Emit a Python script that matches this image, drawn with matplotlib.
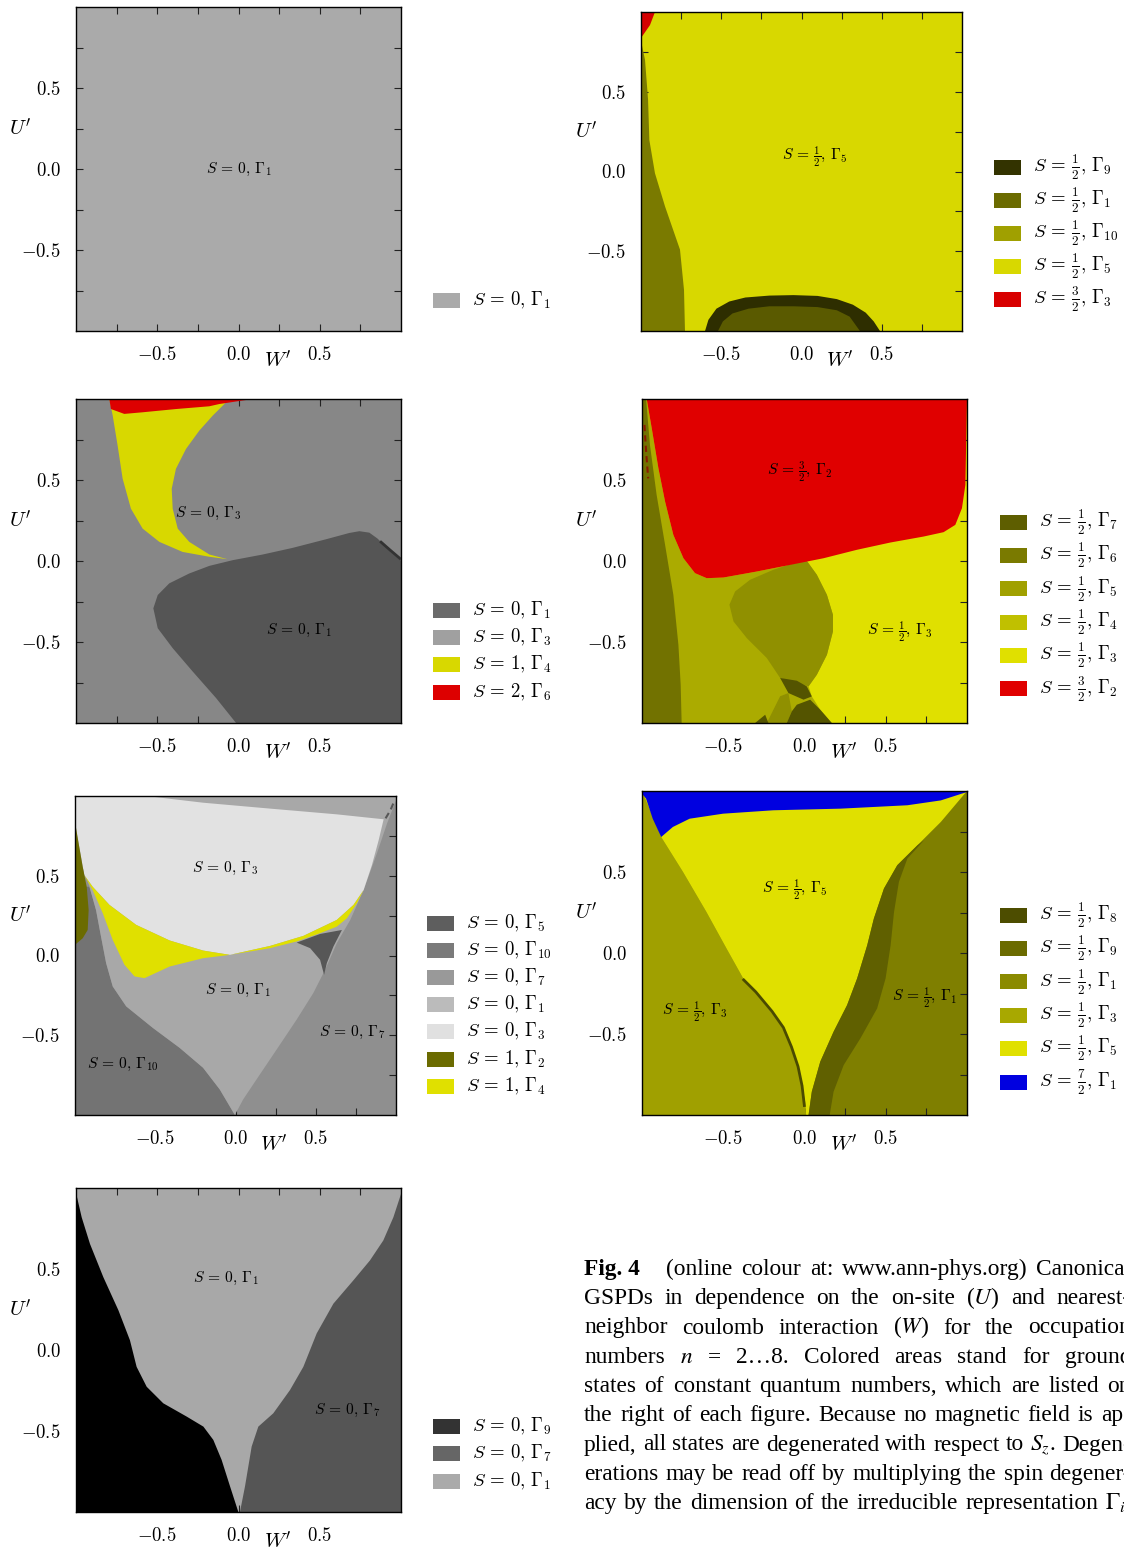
import matplotlib
matplotlib.use("Agg")
import matplotlib.pyplot as plt
from matplotlib.patches import Rectangle

plt.rcParams["mathtext.fontset"] = "cm"
plt.rcParams["font.family"] = ["DejaVu Serif"]

# ---------------- common axis data ----------------
major_ticks = [-0.5, 0.0, 0.5]
major_tick_labels = ["$-0.5$", "$0.0$", "$0.5$"]
minor_ticks = [-0.75, -0.25, 0.25, 0.75]
axis_range = [-1.0, 1.0]
x_label = "$W'$"
y_label = "$U'$"


def st(spin, gamma):
    """quantum-number label S = spin, Gamma_gamma"""
    s = {"1/2": r"\frac{1}{2}", "3/2": r"\frac{3}{2}", "7/2": r"\frac{7}{2}"}.get(spin, spin)
    return r"$S\,=\," + s + r",\,\Gamma_{" + gamma + "}$"


# ---------------- n = 2 ----------------
n2_spins = ["0"]
n2_gammas = ["1"]
n2_colors = ["#aaaaaa"]
n2_legend_colors = ["#aaaaaa"]
n2_background = 0
n2_regions = []
n2_labels = [("0", "1", 0.0, 0.0)]

# ---------------- n = 3 ----------------
n3_spins = ["1/2", "1/2", "1/2", "1/2", "3/2"]
n3_gammas = ["9", "1", "10", "5", "3"]
n3_colors = ["#2e2e00", "#5a5a00", "#7a7a00", "#d8d800", "#d40000"]
n3_legend_colors = ["#333300", "#6b6b00", "#a0a000", "#d8d800", "#d80000"]
n3_background = 3
n3_g10_W = [-1.0, -0.975, -0.956, -0.948, -0.913, -0.850, -0.757, -0.732, -0.726, -1.0]
n3_g10_U = [0.82, 0.70, 0.45, 0.197, -0.011, -0.22, -0.49, -0.743, -1.0, -1.0]
n3_red_W = [-1.0, -0.913, -0.944, -1.0]
n3_red_U = [1.0, 1.0, 0.918, 0.837]
n3_g9_W = [-0.601, -0.58, -0.53, -0.45, -0.35, -0.20, -0.05, 0.10, 0.22, 0.32, 0.40, 0.45, 0.489]
n3_g9_U = [-1.0, -0.93, -0.86, -0.815, -0.79, -0.778, -0.775, -0.78, -0.80, -0.835, -0.885, -0.94, -1.0]
n3_g1_W = [-0.52, -0.49, -0.43, -0.33, -0.20, -0.05, 0.10, 0.22, 0.30, 0.364]
n3_g1_U = [-1.0, -0.94, -0.89, -0.86, -0.845, -0.845, -0.85, -0.87, -0.91, -1.0]
n3_regions = [(2, n3_g10_W, n3_g10_U), (4, n3_red_W, n3_red_U),
              (0, n3_g9_W, n3_g9_U), (1, n3_g1_W, n3_g1_U)]
n3_labels = [("1/2", "5", 0.084, 0.091)]

# ---------------- n = 4 ----------------
n4_spins = ["0", "0", "1", "2"]
n4_gammas = ["1", "3", "4", "6"]
n4_colors = ["#555555", "#878787", "#d8d800", "#dd0000"]
n4_legend_colors = ["#6b6b6b", "#a0a0a0", "#d8d800", "#dd0000"]
n4_background = 1
n4_yel_W = [-0.795, -0.774, -0.744, -0.713, -0.662, -0.590, -0.487, -0.344, -0.179, -0.067,
            -0.179, -0.303, -0.374, -0.405, -0.411, -0.385, -0.323, -0.241, -0.159, -0.097, -0.056]
n4_yel_U = [1.0, 0.897, 0.713, 0.508, 0.323, 0.200, 0.118, 0.056, 0.026, 0.011,
            0.040, 0.118, 0.200, 0.323, 0.446, 0.569, 0.692, 0.805, 0.897, 0.959, 1.0]
n4_red_W = [-0.795, -0.785, -0.703, -0.590, -0.385, -0.180, -0.118, 0.087]
n4_red_U = [1.0, 0.938, 0.908, 0.918, 0.938, 0.955, 0.969, 1.0]
n4_g1_W = [-0.036, 0.149, 0.333, 0.538, 0.682, 0.744, 0.805, 0.856, 0.928, 1.0, 1.0, -0.015,
           -0.138, -0.282, -0.405, -0.497, -0.524, -0.497, -0.426, -0.303, -0.179]
n4_g1_U = [0.005, 0.040, 0.081, 0.134, 0.173, 0.184, 0.175, 0.138, 0.067, 0.001, -1.0, -1.0,
           -0.846, -0.682, -0.538, -0.415, -0.292, -0.210, -0.138, -0.077, -0.030]
n4_sliver_W = [0.871, 0.930, 1.0]
n4_sliver_U = [0.122, 0.070, 0.010]
n4_regions = [(2, n4_yel_W, n4_yel_U), (3, n4_red_W, n4_red_U),
              (0, n4_g1_W, n4_g1_U)]
n4_lines = [("#333333", n4_sliver_W, n4_sliver_U, "-")]
n4_labels = [("0", "3", -0.185, 0.296), ("0", "1", 0.37, -0.426)]

# ---------------- n = 5 ----------------
n5_spins = ["1/2", "1/2", "1/2", "1/2", "1/2", "3/2"]
n5_gammas = ["7", "6", "5", "4", "3", "2"]
n5_colors = ["#545400", "#727200", "#909000", "#abab00", "#e0e000", "#e00000"]
n5_legend_colors = ["#5e5e00", "#7a7a00", "#a0a000", "#c0c000", "#e0e000", "#e00000"]
n5_background = 4
n5_g4_W = [-1.0, -0.971, -0.940, -0.899, -0.858, -0.807, -0.745, -0.674, -0.602, -0.499, -0.294,
           -0.088, 0.014, 0.076, 0.138, 0.175, 0.175, 0.138, 0.076, 0.025, 0.045, 0.097, 0.168, -1.0]
n5_g4_U = [1.0, 1.0, 0.819, 0.572, 0.367, 0.161, 0.017, -0.075, -0.106, -0.102, -0.065,
           -0.024, 0.001, -0.085, -0.209, -0.332, -0.435, -0.579, -0.702, -0.774, -0.836, -0.918, -1.0, -1.0]
n5_bulb_W = [0.014, 0.076, 0.138, 0.175, 0.175, 0.138, 0.076, 0.025, -0.150, -0.232, -0.355,
             -0.437, -0.462, -0.427, -0.335, -0.191, -0.088]
n5_bulb_U = [0.001, -0.085, -0.209, -0.332, -0.435, -0.579, -0.702, -0.774, -0.722, -0.599, -0.476,
             -0.373, -0.270, -0.188, -0.116, -0.054, -0.020]
n5_dark1_W = [-0.150, -0.047, 0.014, 0.045, -0.006, -0.099]
n5_dark1_U = [-0.722, -0.739, -0.774, -0.836, -0.856, -0.815]
n5_dark2_W = [-0.047, 0.035, 0.097, 0.168, -0.109, -0.078]
n5_dark2_U = [-0.887, -0.856, -0.918, -1.0, -1.0, -0.928]
n5_dark3_W = [-0.304, -0.242, -0.222]
n5_dark3_U = [-1.0, -0.949, -1.0]
n5_mid_W = [-0.232, -0.150, -0.099, -0.078, -0.109]
n5_mid_U = [-1.0, -0.835, -0.815, -0.928, -1.0]
n5_red_W = [-0.971, -0.940, -0.899, -0.858, -0.807, -0.745, -0.674, -0.602, -0.499, -0.294, -0.088,
            0.117, 0.322, 0.528, 0.733, 0.856, 0.928, 0.969, 0.990, 1.0]
n5_red_U = [1.0, 0.819, 0.572, 0.367, 0.161, 0.017, -0.075, -0.106, -0.102, -0.065, -0.024,
            0.017, 0.069, 0.114, 0.151, 0.178, 0.223, 0.326, 0.470, 1.0]
n5_strip_W = [-1.0, -0.975, -0.951, -0.910, -0.858, -0.807, -0.776, -0.762, -0.756, -1.0]
n5_strip_U = [1.0, 1.0, 0.716, 0.408, 0.100, -0.209, -0.517, -0.764, -1.0, -1.0]
n5_dash_W = [-0.985, -0.975, -0.962]
n5_dash_U = [0.84, 0.68, 0.51]
n5_regions = [(3, n5_g4_W, n5_g4_U), (2, n5_bulb_W, n5_bulb_U), (2, n5_mid_W, n5_mid_U),
              (0, n5_dark1_W, n5_dark1_U), (0, n5_dark2_W, n5_dark2_U), (0, n5_dark3_W, n5_dark3_U),
              (5, n5_red_W, n5_red_U), (1, n5_strip_W, n5_strip_U)]
n5_lines = [("#8b1a00", n5_dash_W, n5_dash_U, "--")]
n5_labels = [("3/2", "2", -0.028, 0.549), ("1/2", "3", 0.588, -0.438)]

# ---------------- n = 6 ----------------
n6_spins = ["0", "0", "0", "0", "0", "1", "1"]
n6_gammas = ["5", "10", "7", "1", "3", "2", "4"]
n6_colors = ["#575757", "#737373", "#8f8f8f", "#a8a8a8", "#e2e2e2", "#6b6b00", "#e0e000"]
n6_legend_colors = ["#5e5e5e", "#7a7a7a", "#999999", "#bbbbbb", "#e0e0e0", "#6b6b00", "#e0e000"]
n6_background = 2
n6_g10_W = [-1.0, -0.004, -0.098, -0.202, -0.348, -0.515, -0.681, -0.765, -0.806, -0.838, -0.869, -0.910, -1.0]
n6_g10_U = [-1.0, -1.0, -0.840, -0.704, -0.579, -0.454, -0.319, -0.194, -0.048, 0.119, 0.285, 0.431, 0.431]
n6_g1_W = [-1.0, 1.0, 1.0, 0.944, 0.881, 0.798, 0.715, 0.631, 0.558, 0.485, 0.381, 0.256, 0.131, 0.048,
           -0.004, -0.098, -0.202, -0.348, -0.515, -0.681, -0.765, -0.806, -0.838, -0.869, -0.910, -0.942, -1.0]
n6_g1_U = [1.0, 1.0, 0.973, 0.827, 0.640, 0.410, 0.223, 0.077, -0.090, -0.235, -0.402, -0.590, -0.777, -0.902,
           -1.0, -0.840, -0.704, -0.579, -0.454, -0.319, -0.194, -0.048, 0.119, 0.285, 0.431, 0.535, 0.619]
n6_g3_W = [-1.0, -0.556, -0.202, 0.215, 0.631, 0.923, 0.892, 0.850, 0.798, 0.735, 0.631, 0.423, 0.215,
           -0.035, -0.202, -0.410, -0.619, -0.785, -0.890, -0.942, -1.0]
n6_g3_U = [1.0, 1.0, 0.958, 0.921, 0.885, 0.854, 0.723, 0.567, 0.410, 0.317, 0.223, 0.123, 0.060,
           0.004, 0.031, 0.094, 0.192, 0.317, 0.431, 0.504, 0.827]
n6_yl_W = [-0.942, -0.890, -0.785, -0.619, -0.410, -0.202, -0.035, -0.202, -0.410, -0.567, -0.629,
           -0.692, -0.765, -0.827, -0.890, -0.931]
n6_yl_U = [0.504, 0.431, 0.317, 0.192, 0.094, 0.031, 0.004, -0.017, -0.069, -0.142, -0.131,
           -0.058, 0.098, 0.265, 0.410, 0.483]
n6_yr_W = [-0.035, 0.215, 0.423, 0.631, 0.735, 0.798, 0.756, 0.694, 0.631, 0.527, 0.381, 0.215]
n6_yr_U = [0.004, 0.060, 0.123, 0.223, 0.317, 0.410, 0.327, 0.233, 0.181, 0.140, 0.088, 0.046]
n6_g5_W = [0.381, 0.527, 0.663, 0.610, 0.569, 0.552, 0.527, 0.465]
n6_g5_U = [0.081, 0.135, 0.160, 0.056, -0.048, -0.121, -0.027, 0.046]
n6_olive_W = [-1.0, -0.977, -0.952, -0.927, -0.915, -0.921, -0.952, -1.0]
n6_olive_U = [0.838, 0.702, 0.556, 0.431, 0.285, 0.160, 0.108, 0.067]
n6_corner_W = [0.935, 0.965, 0.99]
n6_corner_U = [0.86, 0.91, 0.97]
n6_regions = [(1, n6_g10_W, n6_g10_U), (3, n6_g1_W, n6_g1_U), (4, n6_g3_W, n6_g3_U),
              (6, n6_yl_W, n6_yl_U), (6, n6_yr_W, n6_yr_U), (0, n6_g5_W, n6_g5_U),
              (5, n6_olive_W, n6_olive_U)]
n6_lines = [(n6_colors[0], n6_corner_W, n6_corner_U, "--")]
n6_labels = [("0", "3", -0.065, 0.549), ("0", "1", 0.016, -0.216),
             ("0", "7", 0.726, -0.48), ("0", "10", -0.70, -0.686)]

# ---------------- n = 7 ----------------
n7_spins = ["1/2", "1/2", "1/2", "1/2", "1/2", "7/2"]
n7_gammas = ["8", "9", "1", "3", "5", "1"]
n7_colors = ["#4a4a00", "#606000", "#7f7f00", "#a0a000", "#e0e000", "#0000e0"]
n7_legend_colors = ["#4d4d00", "#6b6b00", "#8a8a00", "#a8a800", "#e0e000", "#0000e0"]
n7_background = 2
n7_g3_W = [-1.0, -0.882, -0.748, -0.604, -0.480, -0.377, -0.274, -0.171, -0.099, -0.047, -0.016, 0.004, 0.010, -1.0]
n7_g3_U = [1.0, 0.716, 0.501, 0.254, 0.028, -0.157, -0.281, -0.404, -0.527, -0.671, -0.815, -0.918, -1.0, -1.0]
n7_g5_W = [-0.882, -0.748, -0.604, -0.480, -0.377, -0.274, -0.171, -0.099, -0.047, -0.016, 0.004, 0.010,
           0.025, 0.045, 0.097, 0.179, 0.262, 0.324, 0.386, 0.427, 0.489, 0.571, 0.695, 0.839, 1.0, -1.0]
n7_g5_U = [0.716, 0.501, 0.254, 0.028, -0.157, -0.281, -0.404, -0.527, -0.671, -0.815, -0.918, -1.0,
           -1.0, -0.856, -0.671, -0.486, -0.322, -0.157, 0.048, 0.213, 0.398, 0.542, 0.665, 0.809, 1.0, 1.0]
n7_g9_W = [0.025, 0.045, 0.097, 0.179, 0.262, 0.324, 0.386, 0.427, 0.489, 0.571, 0.695, 0.736,
           0.633, 0.581, 0.551, 0.530, 0.499, 0.447, 0.344, 0.241, 0.179, 0.155]
n7_g9_U = [-1.0, -0.856, -0.671, -0.486, -0.322, -0.157, 0.048, 0.213, 0.398, 0.542, 0.665, 0.696,
           0.583, 0.439, 0.254, 0.048, -0.157, -0.342, -0.527, -0.692, -0.856, -1.0]
n7_blue_W = [-1.0, 1.0, 1.0, 0.839, 0.633, 0.221, -0.192, -0.501, -0.707, -0.810, -0.882, -0.934, -0.975, -1.0]
n7_blue_U = [1.0, 1.0, 0.994, 0.942, 0.912, 0.891, 0.881, 0.860, 0.829, 0.778, 0.716, 0.829, 0.953, 0.984]
n7_g8_W = [-0.38, -0.30, -0.20, -0.13, -0.08, -0.04, -0.015, 0.0]
n7_g8_U = [-0.16, -0.24, -0.36, -0.46, -0.58, -0.70, -0.82, -0.95]
n7_regions = [(3, n7_g3_W, n7_g3_U), (4, n7_g5_W, n7_g5_U), (1, n7_g9_W, n7_g9_U),
              (5, n7_blue_W, n7_blue_U)]
n7_lines = [(n7_colors[0], n7_g8_W, n7_g8_U, "-")]
n7_labels = [("1/2", "5", -0.058, 0.389), ("1/2", "1", 0.742, -0.278), ("1/2", "3", -0.674, -0.364)]

# ---------------- n = 8 ----------------
n8_spins = ["0", "0", "0"]
n8_gammas = ["9", "7", "1"]
n8_colors = ["#000000", "#555555", "#a8a8a8"]
n8_legend_colors = ["#333333", "#666666", "#aaaaaa"]
n8_background = 2
n8_g9_W = [-1.0, -0.996, -0.965, -0.914, -0.832, -0.739, -0.668, -0.627, -0.565, -0.463, -0.319,
           -0.216, -0.155, -0.104, -0.052, -0.001, -1.0]
n8_g9_U = [1.0, 0.953, 0.819, 0.655, 0.450, 0.245, 0.060, -0.104, -0.227, -0.329, -0.411,
           -0.473, -0.555, -0.678, -0.842, -1.0, -1.0]
n8_g7_W = [1.0, 1.0, 0.009, 0.040, 0.081, 0.122, 0.214, 0.317, 0.399, 0.481, 0.584, 0.707, 0.809, 0.891, 0.953, 1.0]
n8_g7_U = [1.0, -1.0, -1.0, -0.842, -0.596, -0.473, -0.391, -0.247, -0.104, 0.102, 0.286, 0.430, 0.553, 0.676, 0.819, 0.963]
n8_regions = [(0, n8_g9_W, n8_g9_U), (1, n8_g7_W, n8_g7_U)]
n8_labels = [("0", "1", -0.08, 0.444), ("0", "7", 0.67, -0.37)]

caption_lines = [
    [("Fig. 4", True), ("(online", False), ("colour", False), ("at:", False), ("www.ann-phys.org)", False), ("Canonical", False)],
    "GSPDs in dependence on the on-site ($U$) and nearest-",
    "neighbor coulomb interaction ($W$) for the occupation",
    "numbers $n$ = 2\u20268. Colored areas stand for ground",
    "states of constant quantum numbers, which are listed on",
    "the right of each figure. Because no magnetic field is ap-",
    "plied, all states are degenerated with respect to $S_z$. Degen-",
    "erations may be read off by multiplying the spin degener-",
    "acy by the dimension of the irreducible representation $\\Gamma_i$.",
]

# ---------------- layout ----------------
W, H = 1124, 1551
fig = plt.figure(figsize=(W / 100, H / 100), dpi=100)
fig.patch.set_facecolor("white")

panels = [
    dict(box=(76, 401, 7, 331), spins=n2_spins, gammas=n2_gammas, colors=n2_colors, lcolors=n2_legend_colors,
         bg=n2_background, regions=n2_regions, lines=[], labels=n2_labels, legend=(433, 300, 27.5)),
    dict(box=(641, 962, 12, 331), spins=n3_spins, gammas=n3_gammas, colors=n3_colors, lcolors=n3_legend_colors,
         bg=n3_background, regions=n3_regions, lines=[], labels=n3_labels, legend=(994, 167, 33)),
    dict(box=(76, 401, 399, 723), spins=n4_spins, gammas=n4_gammas, colors=n4_colors, lcolors=n4_legend_colors,
         bg=n4_background, regions=n4_regions, lines=n4_lines, labels=n4_labels, legend=(433, 610, 27.4)),
    dict(box=(642, 967, 399, 723), spins=n5_spins, gammas=n5_gammas, colors=n5_colors, lcolors=n5_legend_colors,
         bg=n5_background, regions=n5_regions, lines=n5_lines, labels=n5_labels, legend=(1000, 522, 33.4)),
    dict(box=(75, 396, 796, 1115), spins=n6_spins, gammas=n6_gammas, colors=n6_colors, lcolors=n6_legend_colors,
         bg=n6_background, regions=n6_regions, lines=n6_lines, labels=n6_labels, legend=(427, 923, 27.2)),
    dict(box=(642, 967, 791, 1115), spins=n7_spins, gammas=n7_gammas, colors=n7_colors, lcolors=n7_legend_colors,
         bg=n7_background, regions=n7_regions, lines=n7_lines, labels=n7_labels, legend=(1000, 915, 33.4)),
    dict(box=(76, 401, 1188, 1512), spins=n8_spins, gammas=n8_gammas, colors=n8_colors, lcolors=n8_legend_colors,
         bg=n8_background, regions=n8_regions, lines=[], labels=n8_labels, legend=(433, 1426, 27.5)),
]

for p in panels:
    l, r, t, b = p["box"]
    ax = fig.add_axes([l / W, 1 - b / H, (r - l) / W, (b - t) / H])
    ax.set_xlim(axis_range)
    ax.set_ylim(axis_range)
    ax.set_facecolor(p["colors"][p["bg"]])
    for k, (ci, xs, ys) in enumerate(p["regions"]):
        ax.fill(xs, ys, color=p["colors"][ci], lw=0, zorder=2 + k * 0.01)
    for c, xs, ys, ls in p["lines"]:
        ax.plot(xs, ys, color=c, lw=2.0 if ls == "-" else 1.5, ls=ls, zorder=3,
                solid_capstyle="butt", dashes=(3, 2) if ls == "--" else (None, None))
    for sp, gm, x, y in p["labels"]:
        ax.text(x, y, st(sp, gm), fontsize=11.2, ha="center", va="center", zorder=5)
    ax.set_xticks(major_ticks)
    ax.set_xticklabels(major_tick_labels, fontsize=13.5)
    ax.set_yticks(major_ticks)
    ax.set_yticklabels(major_tick_labels, fontsize=13.5)
    ax.set_xticks(minor_ticks, minor=True)
    ax.set_yticks(minor_ticks, minor=True)
    ax.tick_params(which="both", direction="in", top=True, right=True, length=5, width=0.8,
                   color="#222222")
    ax.tick_params(axis="x", which="major", pad=11)
    ax.tick_params(axis="y", which="major", pad=11)
    for s in ax.spines.values():
        s.set_linewidth(1.0)
    ax.text(0.62, -0.092, x_label, transform=ax.transAxes, fontsize=15, ha="center", va="center")
    ax.text(-0.172, 0.625, y_label, transform=ax.transAxes, fontsize=15, ha="center", va="center")

    # legend to the right
    sx, sy, dy = p["legend"]
    for i, (sp, gm, lc) in enumerate(zip(p["spins"], p["gammas"], p["lcolors"])):
        yc = sy + i * dy
        fig.patches.append(Rectangle((sx / W, 1 - (yc + 7.5) / H), 27 / W, 15 / H,
                                     transform=fig.transFigure, facecolor=lc, edgecolor="none"))
        fig.text((sx + 39) / W, 1 - yc / H, st(sp, gm), fontsize=13.5, ha="left", va="center")

# ---------------- caption (justified) ----------------
renderer = fig.canvas.get_renderer()
x0, x1 = 584, 1131
base0, dline = 1275, 29.25
cap_font = ["Liberation Serif", "DejaVu Serif"]
for li, line in enumerate(caption_lines):
    if isinstance(line, str):
        tokens = [(w, False) for w in line.split(" ")]
    else:
        tokens = line
    yb = base0 + li * dline
    objs = []
    for tok, bold in tokens:
        t = fig.text(0, 1 - yb / H, tok, fontsize=16.8, family=cap_font, math_fontfamily="stix",
                     fontweight="bold" if bold else "normal", ha="left", va="baseline")
        objs.append(t)
    widths = [o.get_window_extent(renderer).width for o in objs]
    extra = 18 if li == 0 else 0
    gap = max(3.0, (x1 - x0 - sum(widths) - extra) / (len(objs) - 1))
    x = x0
    for k, (o, w) in enumerate(zip(objs, widths)):
        o.set_x(x / W)
        x += w + gap + (extra if k == 0 else 0)

fig.savefig("out.png", dpi=100)
